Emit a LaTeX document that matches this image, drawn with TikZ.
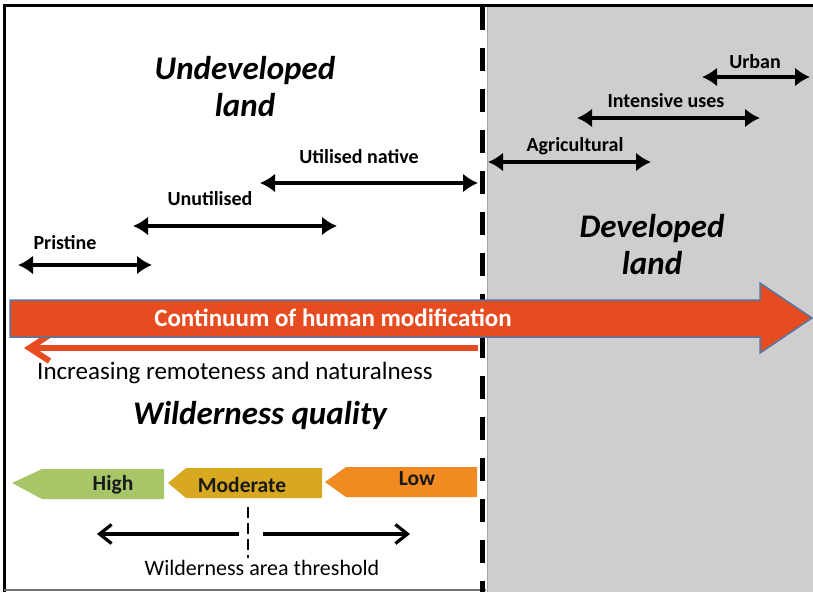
\documentclass[tikz,border=0pt]{standalone}
\usepackage{fontspec}
\setmainfont{Carlito}
\usetikzlibrary{arrows.meta,positioning}

\definecolor{landgrey}{RGB}{206,206,206}
\definecolor{humanred}{RGB}{230,76,32}
\definecolor{arrowblue}{RGB}{84,120,165}
\definecolor{highgreen}{RGB}{166,198,104}
\definecolor{modgold}{RGB}{215,168,32}
\definecolor{loworange}{RGB}{241,138,32}

\tikzset{
  userange/.style={{Latex[length=15pt,width=19pt]}-{Latex[length=15pt,width=19pt]},line width=4.5pt},
  rangelbl/.style={font=\bfseries\fontsize{20}{24}\selectfont},
  bigtitle/.style={font=\bfseries\itshape\fontsize{33}{37}\selectfont,align=center},
  quality/.style={font=\bfseries\fontsize{21.5}{24}\selectfont,text=black!90},
  thresh/.style={-{Straight Barb[length=12pt,width=19pt]},line width=3.2pt}
}

\begin{document}
\begin{tikzpicture}[x=1pt,y=-1pt]
\useasboundingbox (0,0) rectangle (813,592);

% developed side
\fill[landgrey] (487,7) rectangle (813,592);
\draw[black!35,line width=0.8pt] (487,7) -- (487,592);
\draw[line width=3pt] (4,592) -- (4,5) -- (813,5);
\draw[line width=1.5pt,black!55] (4,590) -- (486,590);
\draw[line width=5pt,dash pattern=on 23pt off 18pt] (482,7) -- (482,592);

\node[bigtitle] (undev) at (245,87) {Undeveloped\\land};
\node[bigtitle] (dev) at (652,245) {Developed\\land};

% land use ranges
\coordinate (pris-l) at (18,265);  \coordinate (pris-r) at (152,265);
\coordinate (unut-l) at (133,226); \coordinate (unut-r) at (337,226);
\coordinate (util-l) at (260,183); \coordinate (util-r) at (478,183);
\coordinate (agri-l) at (488,162); \coordinate (agri-r) at (651,162);
\coordinate (inte-l) at (577,118); \coordinate (inte-r) at (760,118);
\coordinate (urba-l) at (702,77);  \coordinate (urba-r) at (810,77);
\draw[userange] (pris-l) -- (pris-r);
\draw[userange] (unut-l) -- (unut-r);
\draw[userange] (util-l) -- (util-r);
\draw[userange] (agri-l) -- (agri-r);
\draw[userange] (inte-l) -- (inte-r);
\draw[userange] (urba-l) -- (urba-r);
\node[rangelbl] (pristine) at (65,243) {Pristine};
\node[rangelbl] (unutilised) at (210,199) {Unutilised};
\node[rangelbl] (utilised) at (359,157) {Utilised native};
\node[rangelbl] (agricultural) at (575,146) {Agricultural};
\node[rangelbl] (intensive) at (666,101) {Intensive uses};
\node[rangelbl] (urban) at (755,62) {Urban};

% continuum arrow
\coordinate (remote-r) at (478,348);
\coordinate (remote-l) at (24,348);
\draw[humanred,line width=6pt,-{Straight Barb[length=20pt,width=26pt]}] (remote-r) -- (remote-l);
\filldraw[fill=humanred,draw=arrowblue,line width=1.5pt]
  (10,300) -- (760,300) -- (760,283) -- (812,318) -- (760,353) -- (760,337) -- (10,337) -- cycle;
\node[font=\bfseries\fontsize{25}{28}\selectfont,text=white] (continuum) at (333,318) {Continuum of human modification};
\node[font=\fontsize{25}{28}\selectfont] (remote) at (235,373) {Increasing remoteness and naturalness};

\node[bigtitle] (wq) at (260,416) {Wilderness quality};

% quality classes
\fill[highgreen] (12,483) -- (42,469) -- (164,469) -- (164,499) -- (42,499) -- cycle;
\fill[modgold] (168,483) -- (186,468) -- (322,468) -- (322,498) -- (186,498) -- cycle;
\fill[loworange] (325,482) -- (346,467) -- (477,467) -- (477,497) -- (346,497) -- cycle;
\node[quality] (high) at (113,485) {High};
\node[quality] (moderate) at (242,485) {Moderate};
\node[quality] (low) at (417,479) {Low};

% threshold
\draw[line width=2.5pt,dash pattern=on 11pt off 5pt] (248,507) -- (248,558);
\coordinate (th-l0) at (239,534); \coordinate (th-l) at (97,534);
\coordinate (th-r0) at (263,534); \coordinate (th-r) at (410,534);
\draw[thresh] (th-l0) -- (th-l);
\draw[thresh] (th-r0) -- (th-r);
\node[font=\fontsize{22}{25}\selectfont] (threshold) at (262,568) {Wilderness area threshold};
\end{tikzpicture}
\end{document}
